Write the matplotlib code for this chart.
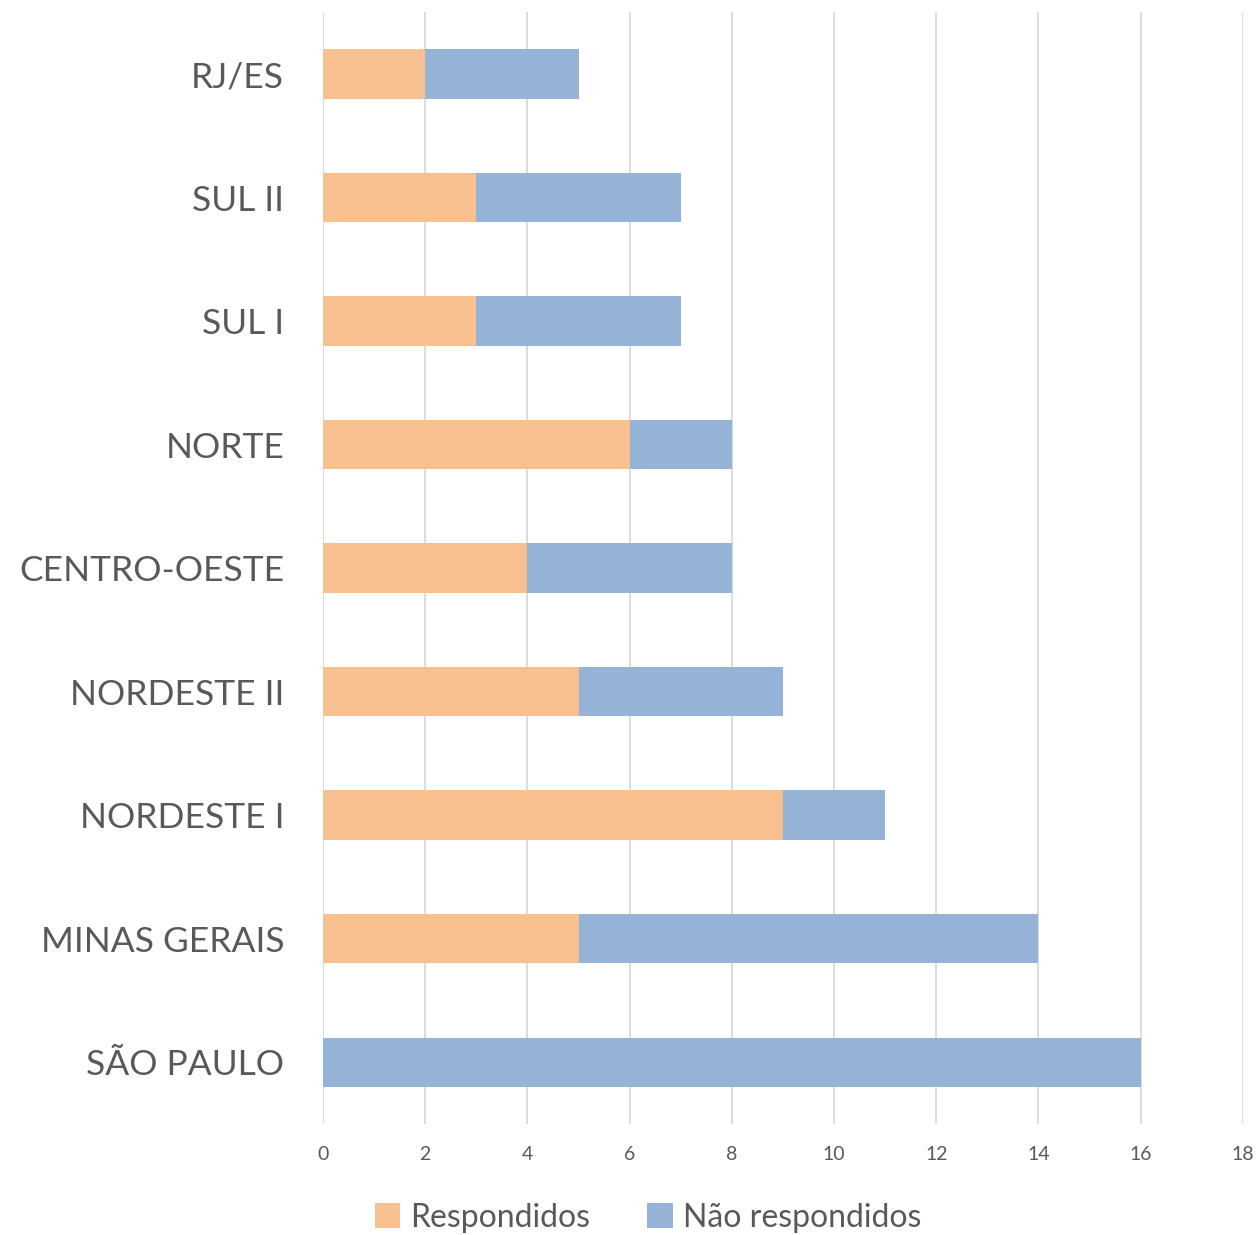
import numpy as np
import matplotlib
matplotlib.use('Agg')
import matplotlib.pyplot as plt

regions = ['RJ/ES', 'SUL II', 'SUL I', 'NORTE', 'CENTRO-OESTE',
           'NORDESTE II', 'NORDESTE I', 'MINAS GERAIS', 'SÃO PAULO']
respondidos = [2, 3, 3, 6, 4, 5, 9, 5, 0]
nao_respondidos = [3, 4, 4, 2, 4, 4, 2, 9, 16]

C_ORANGE = '#F9C08F'
C_BLUE = '#95B3D7'
C_TEXT = '#595959'
C_GRID = '#D9D9D9'

plt.rcParams['font.family'] = ['Lato', 'DejaVu Sans']

fig = plt.figure(figsize=(12.58, 12.35), dpi=100)
ax = fig.add_axes([0.2568, 0.0899, 0.988 - 0.2568, 0.990 - 0.0899])

y = np.arange(len(regions))
resp = np.array(respondidos)
nao = np.array(nao_respondidos)
ax.barh(y, resp, height=0.4, color=C_ORANGE, label='Respondidos', zorder=3)
ax.barh(y, nao, left=resp, height=0.4, color=C_BLUE, label='Não respondidos', zorder=3)

ax.set_ylim(len(regions) - 0.5, -0.5)
ax.set_xlim(0, 18)
ax.set_xticks(np.arange(0, 19, 2))
ax.set_yticks(y)
ax.set_yticklabels(regions, fontsize=25.5, color=C_TEXT)
ax.tick_params(axis='x', labelsize=14, colors=C_TEXT, length=0, pad=16)
ax.tick_params(axis='y', length=0, pad=28)
ax.grid(axis='x', color=C_GRID, lw=1.3, zorder=0)
for s in ax.spines.values():
    s.set_visible(False)

leg = fig.legend(loc='center', bbox_to_anchor=(0.515, 0.014), ncol=2, frameon=False,
                 fontsize=23, handlelength=0.8, handleheight=0.8, handletextpad=0.3,
                 columnspacing=1.8, labelcolor=C_TEXT)

fig.savefig('out.png', dpi=100)
